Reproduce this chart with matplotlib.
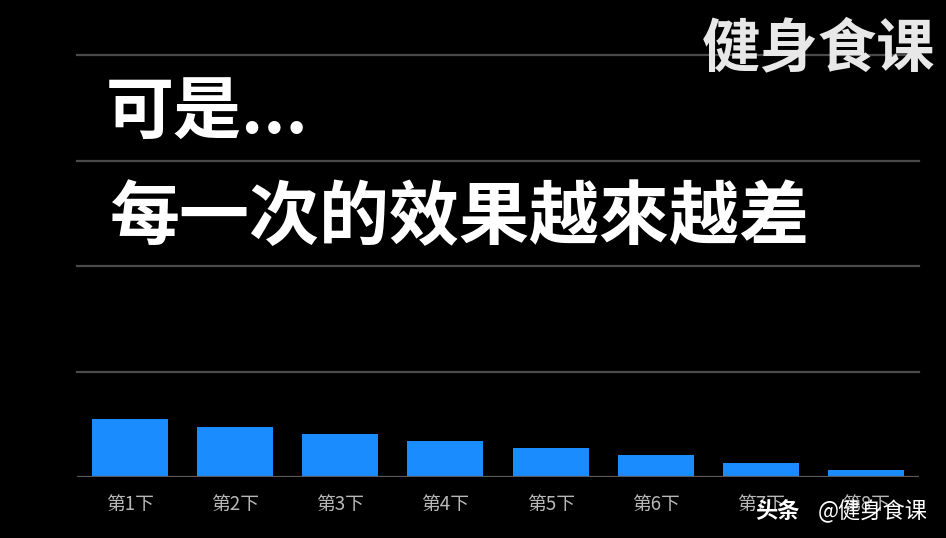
import matplotlib
matplotlib.use("Agg")
import matplotlib.pyplot as plt

plt.rcParams['font.family'] = ['Noto Sans CJK SC', 'DejaVu Sans']

categories = ["第1下", "第2下", "第3下", "第4下", "第5下", "第6下", "第7下", "第8下"]
values = [0.55, 0.48, 0.41, 0.34, 0.275, 0.21, 0.14, 0.07]
gridlines = [1, 2, 3, 4]

fig = plt.figure(figsize=(9.46, 5.38), dpi=100, facecolor='black')
ax = fig.add_axes([77/946, 1-477.3/538, 842/946, 422.3/538])
ax.set_facecolor('black')

x = list(range(len(categories)))
ax.bar(x, values, width=0.72, color='#1a8cfd', zorder=3)
ax.set_xlim(-0.5, len(categories)-0.5)
ax.set_ylim(0, 4)
for g in gridlines:
    ax.axhline(g, color='#4a4a4a', lw=1.6, zorder=1, clip_on=False)
ax.axhline(0, color='#5a5a5a', lw=1.6, zorder=4)
for s in ax.spines.values():
    s.set_visible(False)
ax.set_yticks([])
ax.set_xticks(x)
ax.set_xticklabels(categories, color='#b8b8b8', fontsize=13.5)
ax.tick_params(axis='x', length=0, pad=12)

fig.text(106/946, 1-114/538, "可是...", color='white', fontsize=49, fontweight='black',
         ha='left', va='center')
fig.text(109/946, 1-219/538, "每一次的效果越來越差", color='white', fontsize=50.4, fontweight='black',
         ha='left', va='center')
fig.text(935/946, 1-49/538, "健身食课", color='#e8e8e8', fontsize=42, fontweight='black',
         ha='right', va='center')
fig.text(755/946, 1-511/538, "头条", color='white', fontsize=16, fontweight='bold',
         ha='left', va='center')
fig.text(928/946, 1-511/538, "@健身食课", color='white', fontsize=16,
         ha='right', va='center')

fig.savefig("out.png", dpi=100, facecolor='black')
